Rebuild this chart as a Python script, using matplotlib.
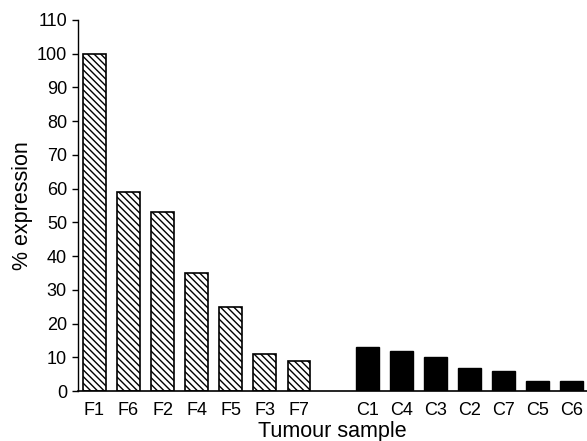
import matplotlib.pyplot as plt
import numpy as np

plt.rcParams["font.family"] = ["Liberation Sans", "DejaVu Sans"]
plt.rcParams["hatch.linewidth"] = 1.0

f_labels = ["F1", "F6", "F2", "F4", "F5", "F3", "F7"]
f_values = [100, 59, 53, 35, 25, 11, 9]
c_labels = ["C1", "C4", "C3", "C2", "C7", "C5", "C6"]
c_values = [13, 12, 10, 7, 6, 3, 3]

fig = plt.figure(figsize=(5.87, 4.41), dpi=100)
ax = fig.add_axes([0.133, 0.113, 0.867, 0.842])

f_pos = np.arange(len(f_labels))
c_pos = np.arange(len(c_labels)) + len(f_labels) + 1

ax.bar(f_pos, f_values, width=0.67, color="white", edgecolor="black",
       hatch="\\" * 5, linewidth=1.2)
ax.bar(c_pos, c_values, width=0.67, color="black", edgecolor="black")

ax.set_xticks(np.concatenate([f_pos, c_pos]))
ax.set_xticklabels(f_labels + c_labels, fontsize=13)
ax.tick_params(axis="x", length=0, pad=8)
ax.set_xlim(-0.48, 14.45)

ax.set_ylim(0, 110)
ax.set_yticks(range(0, 111, 10))
ax.tick_params(axis="y", labelsize=13, length=4, width=1, direction="out", pad=4)

ax.spines["top"].set_visible(False)
ax.spines["right"].set_visible(False)
ax.spines["left"].set_linewidth(1.0)
ax.spines["bottom"].set_linewidth(1.2)

ax.set_xlabel("Tumour sample", fontsize=15.5, labelpad=1)
ax.set_ylabel("% expression", fontsize=15.5, labelpad=3)

fig.savefig("out.png", dpi=100)
